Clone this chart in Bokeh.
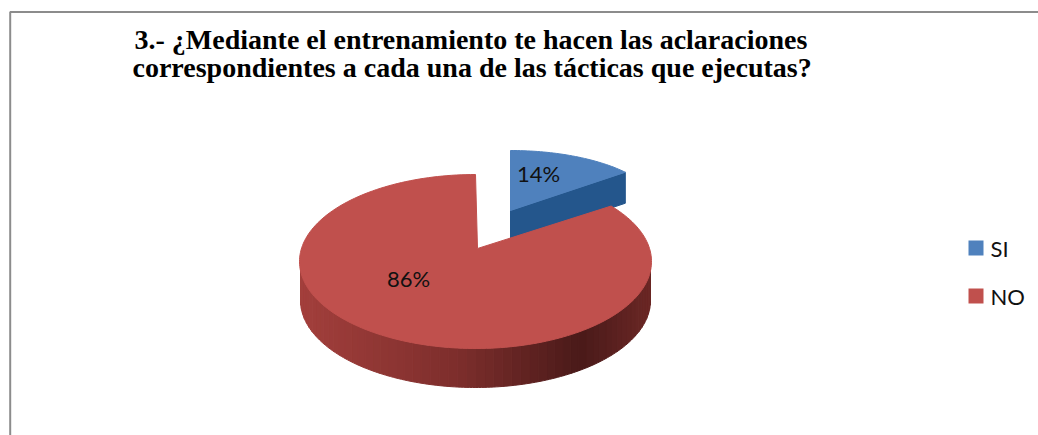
import numpy as np
from bokeh.core.properties import value
from bokeh.embed import file_html
from bokeh.models import Range1d
from bokeh.plotting import figure
from bokeh.resources import INLINE

categories = ["SI", "NO"]
shares = [14, 86]
labels = ["14%", "86%"]
title_lines = [
    "3.- ¿Mediante el entrenamiento te hacen las aclaraciones",
    "correspondientes a cada una de las tácticas que ejecutas?",
]
top_colors = ["#4f81bd", "#c0504d"]
side_blue = "#24568c"

W, H = 1038, 435
p = figure(width=W, height=H, output_backend="svg", toolbar_location=None,
           x_range=Range1d(0, W), y_range=Range1d(H, 0),
           min_border=0, outline_line_color=None)
p.axis.visible = False
p.grid.visible = False

# Chart frame: top and left edges only
p.line([9.7, 9.7, W], [H, 11.5, 11.5], line_color="#8c8c8c", line_width=2)

sweep = 2 * np.pi * shares[0] / sum(shares)


def rim(cx, cy, rx, ry, angles):
    return cx + rx * np.sin(angles), cy - ry * np.cos(angles)


def mix(c1, c2, t):
    a = [int(c1[i:i + 2], 16) for i in (1, 3, 5)]
    b = [int(c2[i:i + 2], 16) for i in (1, 3, 5)]
    return "#%02x%02x%02x" % tuple(int(round(u + (v - u) * t)) for u, v in zip(a, b))


# Red slice: wall below the rim, shaded left to right
depth = 39
angles = np.linspace(np.pi / 2, 3 * np.pi / 2, 61)
stops = [(0.0, "#a33f3c"), (0.45, "#7d2e2c"), (0.8, "#4a1a19"), (1.0, "#6b2725")]
for a0, a1 in zip(angles[:-1], angles[1:]):
    seg = np.linspace(a0, a1, 4)
    x, y = rim(475, 261, 175, 87, seg)
    xs = np.r_[x, x[::-1]]
    ys = np.r_[y, y[::-1] + depth]
    t = (x.mean() - 298) / 352
    c = stops[-1][1]
    for (s0, c0), (s1, c1) in zip(stops[:-1], stops[1:]):
        if s0 <= t <= s1:
            c = mix(c0, c1, (t - s0) / (s1 - s0))
    p.patch(xs, ys, fill_color=c, line_color=c, line_width=1)

# Blue slice: wall and top face, pulled out from the centre
blue_arc = np.linspace(0, sweep, 40)
bx, by = rim(510, 210, 149, 60, blue_arc)
p.patch([510, bx[-1], bx[-1], 510], [210, by[-1], by[-1] + 31, 241],
        fill_color=side_blue, line_color=side_blue)
p.patch(np.r_[510, bx], np.r_[210, by], fill_color=top_colors[0], line_color=top_colors[0])

# Red slice: top face
red_arc = np.linspace(sweep, 2 * np.pi, 200)
rx_, ry_ = rim(475, 261, 176, 87, red_arc)
p.patch(np.r_[477, rx_], np.r_[248, ry_], fill_color=top_colors[1], line_color=top_colors[1])

# Percent labels
p.text([538, 408], [173, 278], text=labels, text_font=value("Lato"),
       text_font_size="22px", text_align="center", text_baseline="middle", text_color="#111111")

# Title
p.text([134, 132], [39, 67], text=title_lines, text_font=value("Liberation Serif"),
       text_font_size="28px", text_font_style="bold", text_baseline="middle", text_color="#000000")

# Legend
for name, color, y in zip(categories, top_colors, [247.5, 295.5]):
    p.rect([975.5], [y], width=15, height=15, fill_color=color, line_color=None)
    p.text([990], [y], text=[name], text_font=value("Lato"), text_font_size="22px",
           text_baseline="middle", text_color="#111111")

open("out.html", "w").write(file_html(p, INLINE))
